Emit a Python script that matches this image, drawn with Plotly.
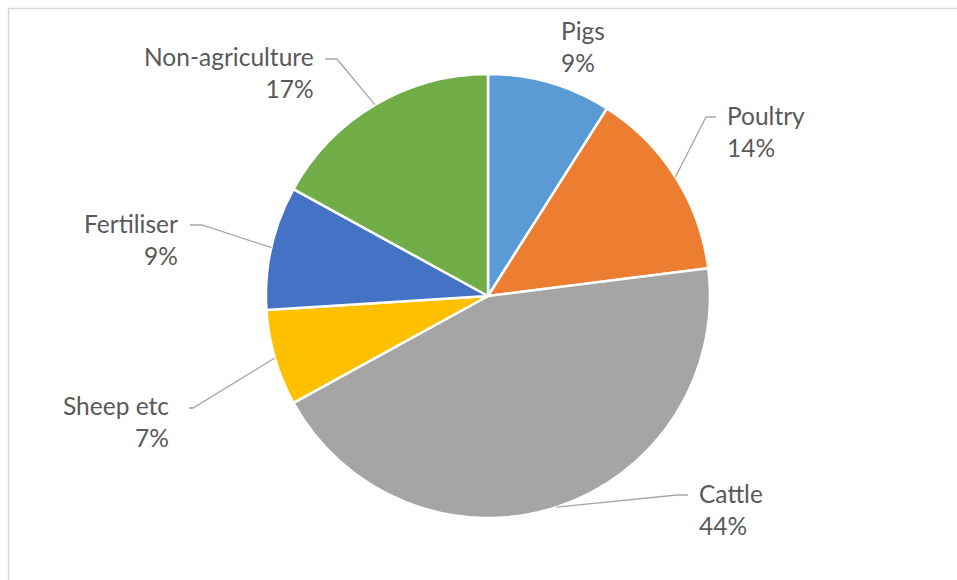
import math
import plotly.graph_objects as go

# Share of emissions by source
categories = ["Pigs", "Poultry", "Cattle", "Sheep etc", "Fertiliser", "Non-agriculture"]
values = [9, 14, 44, 7, 9, 17]
colors = ["#5B9BD5", "#ED7D31", "#A5A5A5", "#FFC000", "#4472C4", "#70AD47"]

W, H = 957, 580
# pie square in pixels: left, top, size
PIE_L, PIE_T, PIE_S = 266, 74, 444

# label placement (pixels): anchor side, text x edge, text centre y, leader points (None = no leader)
label_layout = {
    "Pigs": ("left", 559, 46, None),
    "Poultry": ("left", 725, 131, [(716, 117), (706, 117)]),
    "Cattle": ("left", 697, 509, [(688, 495), (677, 495)]),
    "Sheep etc": ("right", 171, 421, [(189, 408), (193, 408)]),
    "Fertiliser": ("right", 180, 239, [(190, 225), (202, 225)]),
    "Non-agriculture": ("right", 316, 72, [(325, 59), (337, 59)]),
}


def px(x):
    return x / W


def py(y):
    return 1 - y / H


fig = go.Figure(
    go.Pie(
        labels=categories,
        values=values,
        sort=False,
        direction="clockwise",
        rotation=0,
        marker=dict(colors=colors, line=dict(color="white", width=2.5)),
        textinfo="none",
        hoverinfo="label+percent",
        domain=dict(x=[px(PIE_L), px(PIE_L + PIE_S)],
                    y=[py(PIE_T + PIE_S), py(PIE_T)]),
        showlegend=False,
    )
)

cx = PIE_L + PIE_S / 2
cy = PIE_T + PIE_S / 2
r = PIE_S / 2
total = sum(values)

annotations = []
shapes = [
    dict(type="rect", xref="paper", yref="paper",
         x0=px(8.5), y0=-0.02, x1=1.02, y1=py(8.5),
         line=dict(color="#D9D9D9", width=1.5), fillcolor="rgba(0,0,0,0)"),
]

cum = 0
for name, v in zip(categories, values):
    mid = (cum + v / 2) / total * 2 * math.pi
    cum += v
    side, tx, ty, leader = label_layout[name]
    annotations.append(dict(
        x=px(tx), y=py(ty), xref="paper", yref="paper",
        xanchor=side, yanchor="middle", align=side,
        text=f"{name}<br>{round(v / total * 100)}%",
        showarrow=False,
        font=dict(family="Lato", size=24.5, color="#595959"),
    ))
    if leader:
        ex = cx + r * math.sin(mid)
        ey = cy - r * math.cos(mid)
        pts = leader + [(ex, ey)]
        path = "M " + " L ".join(f"{px(a)},{py(b)}" for a, b in pts)
        shapes.append(dict(type="path", xref="paper", yref="paper", path=path,
                           line=dict(color="#A6A6A6", width=1.3)))

fig.update_layout(
    width=W, height=H,
    margin=dict(l=0, r=0, t=0, b=0),
    paper_bgcolor="white",
    plot_bgcolor="white",
    annotations=annotations,
    shapes=shapes,
)

fig.write_html("out.html")
